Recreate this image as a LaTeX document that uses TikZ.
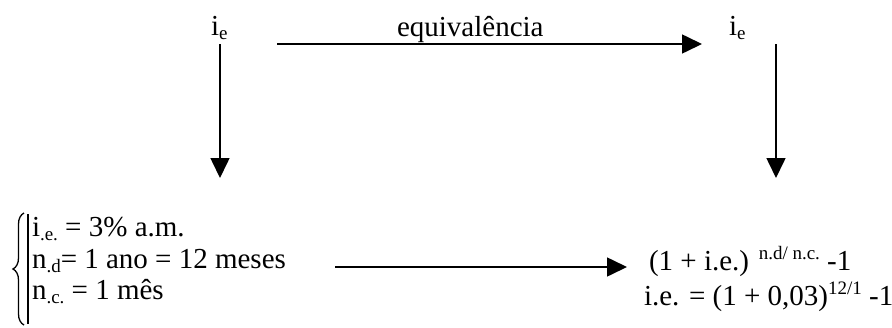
\documentclass[tikz,border=0pt]{standalone}
\usepackage{fontspec}
\setmainfont{Liberation Serif}
\usetikzlibrary{arrows.meta,decorations.pathreplacing}
\newcommand{\sbx}[1]{\raisebox{-0.16em}{\fontsize{19}{19}\selectfont #1}}
\newcommand{\spx}[1]{\raisebox{0.36em}{\fontsize{19}{19}\selectfont #1}}
\tikzset{
  txt/.style={anchor=base west, inner sep=0pt, outer sep=0pt, font=\fontsize{29}{33}\selectfont},
  arr/.style={line width=1.6pt, -{Triangle[length=20pt,width=19pt]}},
}
\begin{document}
\begin{tikzpicture}[x=1pt,y=-1pt]
\useasboundingbox (0,0) rectangle (892,327);
% top row
\node[txt] (ieL) at (211,35) {i\sbx{e}};
\node[txt] (equiv) at (397,36) {equivalência};
\node[txt] (ieR) at (729,35) {i\sbx{e}};
\coordinate (hs) at (277,44);
\coordinate (he) at (702,44);
\draw[arr] (hs) -- (he);
% vertical arrows
\coordinate (vls) at (220,44);
\coordinate (vle) at (220,178);
\coordinate (vrs) at (776,44);
\coordinate (vre) at (776,178);
\draw[arr] (vls) -- (vle);
\draw[arr] (vrs) -- (vre);
% brace and bar
\coordinate (bb) at (24,325);
\coordinate (bt) at (24,213);
\draw[line width=1.3pt, decorate, decoration={brace, amplitude=11pt}] (bb) -- (bt);
\coordinate (barb) at (28,324);
\coordinate (bart) at (28,214);
\draw[line width=1.3pt] (barb) -- (bart);
% left lines
\node[txt] (l1) at (32,236) {i\sbx{.e.} = 3\% a.m.};
\node[txt] (l2) at (32,268) {n\sbx{.d}= 1 ano = 12 meses};
\node[txt] (l3) at (32,299) {n\sbx{.c.} = 1 mês};
% bottom arrow
\coordinate (bs) at (335,267);
\coordinate (be) at (627,267);
\draw[arr] (bs) -- (be);
% right lines
\node[txt] (r1) at (649,270) {(1 + i.e.) \spx{n.d/ n.c.} -1};
\node[txt] (r2) at (644,305) {i.e. = (1 + 0,03)\spx{12/1} -1};
\end{tikzpicture}
\end{document}
